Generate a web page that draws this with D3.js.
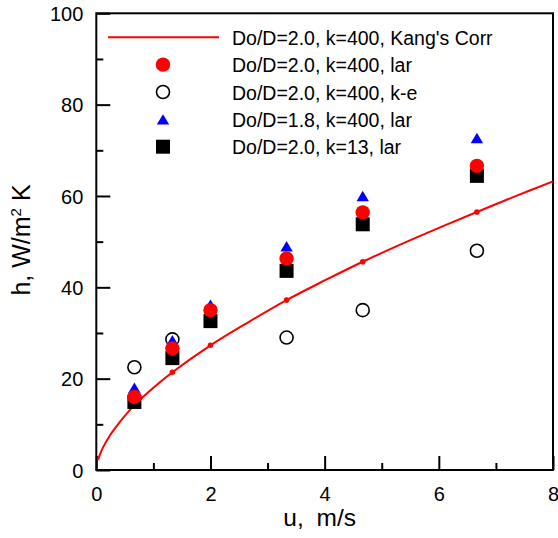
<!DOCTYPE html>
<html>
<head>
<meta charset="utf-8">
<script src="https://cdn.jsdelivr.net/npm/d3@7"></script>
<style>
  body { margin: 0; background: #fff; }
  svg text { font-family: "Liberation Sans", Arial, sans-serif; fill: #000; }
</style>
</head>
<body>
<script>
// velocity, m/s
var uVals = [0.667, 1.333, 2, 3.333, 4.667, 6.667];

// h, W/m2K for each case (null = hidden / not shown)
var hLar400   = [16.0, 26.6, 35.0, 46.3, 56.4, 66.6];   // Do/D=2.0, k=400, lar
var hKe400    = [22.5, 28.6, null, 29.0, 35.0, 48.0];   // Do/D=2.0, k=400, k-e
var hLar18    = [18.0, 28.4, 36.2, 49.0, 60.0, 72.7];   // Do/D=1.8, k=400, lar
var hLar13    = [14.9, 24.5, 32.6, 43.6, 53.8, 64.4];   // Do/D=2.0, k=13, lar

// Kang's correlation curve
var kangU = [0.03, 0.07, 0.12, 0.23, 0.35, 0.47, 0.667, 1, 1.333, 2, 2.667, 3.333, 4, 4.667, 5.333, 6, 6.667, 7.333, 8];
var kangH = [2.2, 3.6, 5.0, 7.4, 9.5, 11.4, 14.2, 18.0, 21.4, 27.3, 32.4, 37.2, 41.5, 45.6, 49.4, 53.0, 56.5, 59.9, 63.2];
// small dots on the curve
var kangDotU = [0.667, 1.333, 2, 3.333, 4.667, 6.667];
var kangDotH = [14.2, 21.4, 27.3, 37.2, 45.6, 56.5];

var xTicks = [0, 2, 4, 6, 8];
var xMinor = [1, 3, 5, 7];
var yTicks = [0, 20, 40, 60, 80, 100];
var yMinor = [10, 30, 50, 70, 90];

var legendLabels = [
    "Do/D=2.0, k=400, Kang's Corr",
    "Do/D=2.0, k=400, lar",
    "Do/D=2.0, k=400, k-e",
    "Do/D=1.8, k=400, lar",
    "Do/D=2.0, k=13, lar"
];

var width = 558, height = 538;
var plot = {left: 96.3, right: 553, top: 13.3, bottom: 470};

var svg = d3.select("body").append("svg")
    .attr("width", width)
    .attr("height", height);

var xScale = d3.scaleLinear().domain([0, 8]).range([plot.left, plot.right]);
var yScale = d3.scaleLinear().domain([0, 100]).range([plot.bottom, plot.top]);

// axes - ticks pointing inward
var xAxis = svg.append("g")
    .attr("transform", "translate(0," + plot.bottom + ")")
    .call(d3.axisBottom(xScale).tickValues(xTicks).tickSize(-14).tickFormat(d3.format("d")));
xAxis.selectAll(".tick text").attr("font-size", "20px").attr("dy", "0").attr("y", 30.5);

var xAxisMinor = svg.append("g")
    .attr("transform", "translate(0," + plot.bottom + ")")
    .call(d3.axisBottom(xScale).tickValues(xMinor).tickSize(-7).tickFormat(""));

var yAxis = svg.append("g")
    .attr("transform", "translate(" + plot.left + ",0)")
    .call(d3.axisLeft(yScale).tickValues(yTicks).tickSize(-14).tickFormat(d3.format("d")));
yAxis.selectAll(".tick text").attr("font-size", "20px").attr("x", -13).attr("dy", "0.36em");

var yAxisMinor = svg.append("g")
    .attr("transform", "translate(" + plot.left + ",0)")
    .call(d3.axisLeft(yScale).tickValues(yMinor).tickSize(-7).tickFormat(""));

svg.selectAll(".domain").remove();
svg.selectAll(".tick line").attr("stroke", "#000").attr("stroke-width", 2);

// frame
svg.append("rect")
    .attr("x", plot.left)
    .attr("y", plot.top)
    .attr("width", plot.right - plot.left)
    .attr("height", plot.bottom - plot.top)
    .attr("fill", "none")
    .attr("stroke", "#000")
    .attr("stroke-width", 2);

// axis titles
svg.append("text")
    .attr("x", (plot.left + plot.right) / 2 - 5)
    .attr("y", 526)
    .attr("text-anchor", "middle")
    .attr("font-size", "24.5px")
    .attr("word-spacing", "6px")
    .text("u, m/s");

var yTitle = svg.append("text")
    .attr("transform", "translate(30,240) rotate(-90)")
    .attr("text-anchor", "middle")
    .attr("font-size", "25px");
yTitle.append("tspan").text("h, W/m");
yTitle.append("tspan").attr("font-size", "15px").attr("dy", "-9").text("2");
yTitle.append("tspan").attr("dy", "9").text(" K");

// Kang's correlation line
var kangData = kangU.map(function(u, i) { return {u: u, h: kangH[i]}; });
var line = d3.line()
    .x(function(d) { return xScale(d.u); })
    .y(function(d) { return yScale(d.h); })
    .curve(d3.curveCatmullRom.alpha(0.5));

svg.append("path")
    .datum(kangData)
    .attr("d", line)
    .attr("fill", "none")
    .attr("stroke", "#ff0000")
    .attr("stroke-width", 2);

svg.selectAll(".kangDot")
    .data(kangDotU.map(function(u, i) { return {u: u, h: kangDotH[i]}; }))
    .enter()
    .append("circle")
    .attr("class", "kangDot")
    .attr("cx", function(d) { return xScale(d.u); })
    .attr("cy", function(d) { return yScale(d.h); })
    .attr("r", 2.8)
    .attr("fill", "#ff0000");

function series(vals) {
    return uVals.map(function(u, i) { return {u: u, h: vals[i]}; })
        .filter(function(d) { return d.h != null; });
}

// marker drawing helpers
function openCircle(g) {
    g.append("circle").attr("r", 6.5).attr("fill", "none").attr("stroke", "#000").attr("stroke-width", 1.6);
}
function triangle(g) {
    g.append("path").attr("d", "M0,-5.2L6.2,5.2L-6.2,5.2Z").attr("fill", "#0000ff");
}
function square(g) {
    g.append("rect").attr("x", -7).attr("y", -7).attr("width", 14).attr("height", 14).attr("fill", "#000");
}
function redCircle(g) {
    g.append("circle").attr("r", 7.2).attr("fill", "#ff0000");
}

function drawSeries(vals, cls, marker) {
    svg.selectAll("." + cls)
        .data(series(vals))
        .enter()
        .append("g")
        .attr("class", cls)
        .attr("transform", function(d) { return "translate(" + xScale(d.u) + "," + yScale(d.h) + ")"; })
        .each(function() { marker(d3.select(this)); });
}

drawSeries(hKe400, "ke400", openCircle);
drawSeries(hLar18, "lar18", triangle);
drawSeries(hLar13, "lar13", square);
drawSeries(hLar400, "lar400", redCircle);

// legend
var legendMarkers = [null, redCircle, openCircle, triangle, square];
var legend = svg.append("g").attr("transform", "translate(0,37.3)");
legendLabels.forEach(function(label, i) {
    var row = legend.append("g").attr("transform", "translate(0," + (i * 27.35) + ")");
    if (i === 0) {
        row.append("line")
            .attr("x1", 108).attr("x2", 219)
            .attr("y1", 0).attr("y2", 0)
            .attr("stroke", "#ff0000")
            .attr("stroke-width", 2);
    } else {
        var m = row.append("g").attr("transform", "translate(163,0)");
        legendMarkers[i](m);
    }
    row.append("text")
        .attr("x", 232)
        .attr("y", 7.5)
        .attr("font-size", "19.5px")
        .text(label);
});
</script>
</body>
</html>
